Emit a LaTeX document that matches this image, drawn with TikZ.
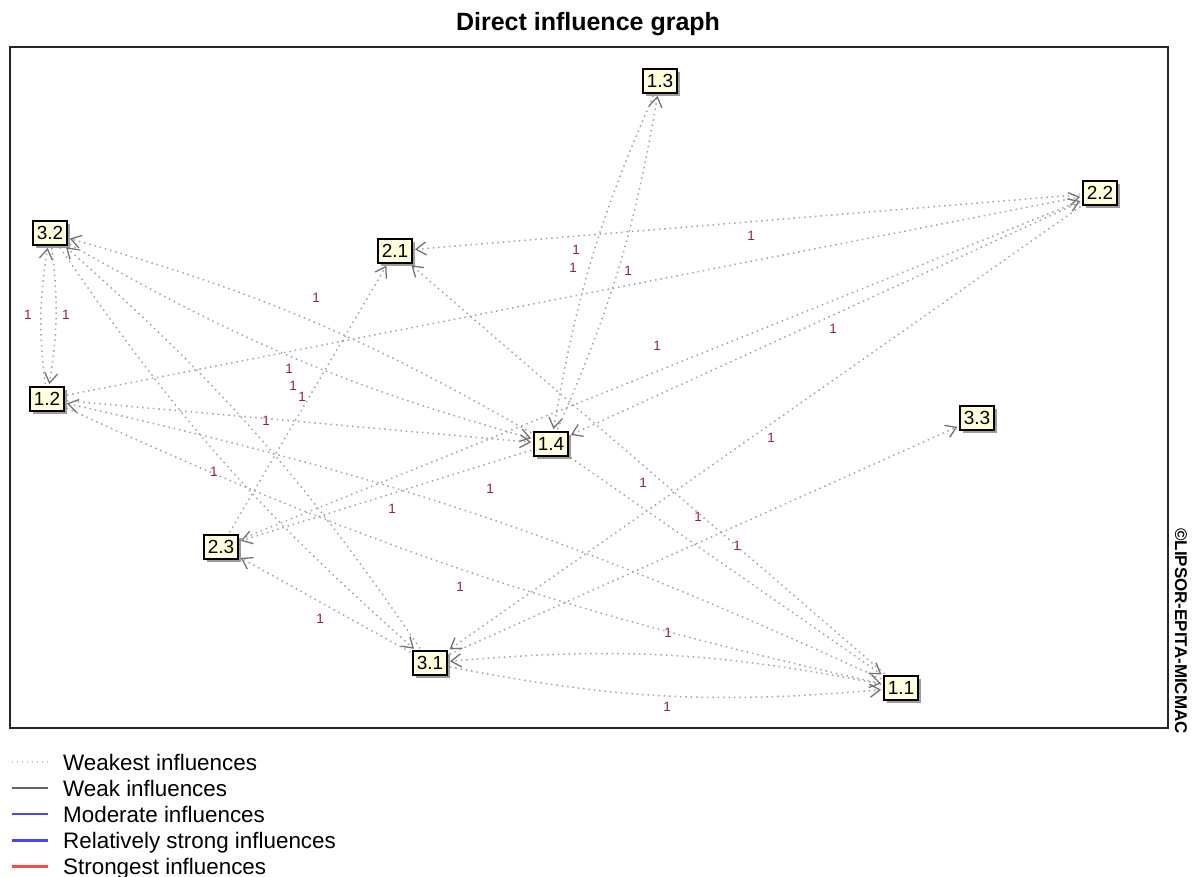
\documentclass[tikz,border=0pt]{standalone}
\usepackage{fontspec}
\setmainfont{Liberation Sans}
\usetikzlibrary{arrows.meta,positioning,shadows,backgrounds}
\definecolor{boxfill}{RGB}{255,255,222}
\definecolor{edgegray}{RGB}{165,165,165}
\definecolor{tipgray}{RGB}{115,115,115}
\definecolor{valred}{RGB}{150,35,60}
\definecolor{modblue}{RGB}{70,70,255}
\definecolor{hotred}{RGB}{255,70,70}

\begin{document}
\begin{tikzpicture}[x=1pt, y=-1pt,
    >={Straight Barb[length=10pt,width=13pt,line width=1.3pt,color=tipgray]},
    var/.style={draw=black, line width=1.8pt, fill=boxfill, minimum width=34pt,
      minimum height=24pt, inner sep=0pt, font=\fontsize{19}{19}\selectfont,
      drop shadow={shadow xshift=3pt, shadow yshift=-3pt, fill=black!55, opacity=0.7}},
    infl/.style={->, edgegray, line width=1.5pt, dash pattern=on 1.5pt off 3.9pt,
      shorten >=2pt, shorten <=2pt},
    val/.style={text=valred, font=\fontsize{13.5}{13.5}\selectfont, inner sep=0pt},
    legtext/.style={anchor=base west, font=\fontsize{22.4}{22.4}\selectfont, inner sep=0pt}]
    \useasboundingbox (0,0) rectangle (1193,877);

    \node[font=\bfseries\fontsize{25}{25}\selectfont] (title) at (588,24) {Direct influence graph};
    \draw[line width=1.5pt, black!85] (10,47) rectangle (1168,728);
    \node[rotate=-90, font=\bfseries\fontsize{17}{17}\selectfont] (copy) at (1181,631) {©LIPSOR-EPITA-MICMAC};

    \node[var] (n11) at (901,688) {1.1};
    \node[var] (n12) at (47,399) {1.2};
    \node[var] (n13) at (660,81) {1.3};
    \node[var] (n14) at (551,444) {1.4};
    \node[var] (n21) at (395,251) {2.1};
    \node[var] (n22) at (1100,193) {2.2};
    \node[var] (n23) at (221,547) {2.3};
    \node[var] (n31) at (430,663) {3.1};
    \node[var] (n32) at (50,233) {3.2};
    \node[var] (n33) at (977,418) {3.3};

    \begin{scope}[on background layer]
    \draw[infl] (n32) to[bend left=8] (n12);
    \draw[infl] (n12) to[bend left=8] (n32);
    \draw[infl] (n13) to[bend right=7] (n14);
    \draw[infl] (n14) to[bend right=7] (n13);
    \draw[infl] (n31) to[bend right=8] (n11);
    \draw[infl] (n11) to[bend right=8] (n31);
    \draw[infl] (n32) to[bend right=7] (n31);
    \draw[infl] (n31) to[bend right=7] (n32);
    \draw[infl] (n12) to[bend right=6] (n11);
    \draw[infl] (n11) to[bend right=6] (n12);
    \draw[infl] (n32) to[bend right=7] (n14);
    \draw[infl] (n14) to[bend right=7] (n32);
    \draw[infl] (n22) -- (n21);
    \draw[infl] (n12) -- (n22);
    \draw[infl] (n23) -- (n22);
    \draw[infl] (n22) -- (n14);
    \draw[infl] (n22) -- (n31);
    \draw[infl] (n31) -- (n33);
    \draw[infl] (n23) -- (n21);
    \draw[infl] (n14) -- (n23);
    \draw[infl] (n31) -- (n23);
    \draw[infl] (n12) -- (n14);
    \draw[infl] (n11) -- (n21);
    \draw[infl] (n14) -- (n11);
    \end{scope}

    \foreach \lx/\ly [count=\k] in {576/250, 573/268, 628/271, 751/236, 316/298, 28/315,
        66/315, 833/329, 657/346, 289/369, 293/386, 302/397, 266/421, 771/438,
        214/472, 643/483, 490/489, 392/509, 698/517, 737/546, 460/587, 320/619,
        668/633, 667/707}
      \node[val] (v\k) at (\lx,\ly) {1};

    \draw[edgegray!60, line width=1.3pt, dash pattern=on 1.3pt off 3.7pt] (12,762) -- (48,762);
    \node[legtext] (t1) at (63,770) {Weakest influences};
    \draw[black!60, line width=1.5pt] (12,788) -- (48,788);
    \node[legtext] (t2) at (63,796) {Weak influences};
    \draw[modblue, line width=1.3pt] (12,814) -- (48,814);
    \node[legtext] (t3) at (63,822) {Moderate influences};
    \draw[modblue, line width=3pt] (12,840) -- (48,840);
    \node[legtext] (t4) at (63,848) {Relatively strong influences};
    \draw[hotred, line width=3pt] (12,866) -- (48,866);
    \node[legtext] (t5) at (63,874) {Strongest influences};
\end{tikzpicture}
\end{document}
